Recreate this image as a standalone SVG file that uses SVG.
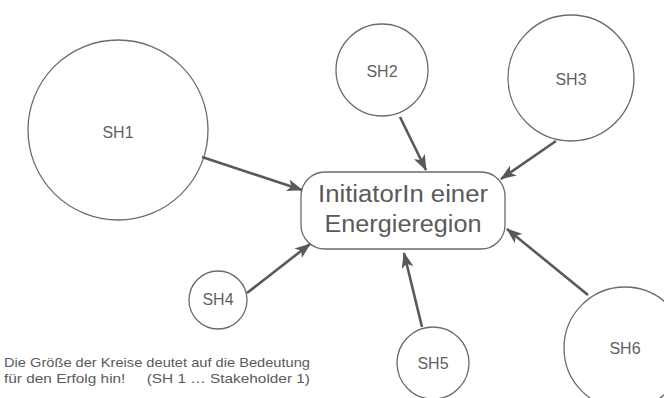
<svg xmlns="http://www.w3.org/2000/svg" width="664" height="398" viewBox="0 0 664 398">
<style>
.c{fill:#fff;stroke:#6b6b6b;stroke-width:1.3}
.b{fill:#fff;stroke:#6b6b6b;stroke-width:1.3}
.l{font-family:"Liberation Sans",Arial,sans-serif;font-size:16px;fill:#5f5f5f;text-anchor:middle}
.m{font-family:"Liberation Sans",Arial,sans-serif;font-size:23px;fill:#5a5a5a;text-anchor:middle}
.n{font-family:"Liberation Sans",Arial,sans-serif;font-size:13.5px;fill:#5a5a5a}
.a{stroke:#595959;stroke-width:2.6;fill:none;marker-end:url(#ah)}
</style>
<defs>
<marker id="ah" viewBox="0 0 16 12" refX="15" refY="6" markerWidth="16" markerHeight="12" markerUnits="userSpaceOnUse" orient="auto">
<path d="M0,0 L16,6 L0,12 L4,6 z" fill="#595959"/>
</marker>
</defs>
<g id="sh1"><circle class="c" cx="118" cy="130" r="90"/><text class="l" x="118" y="138">SH1</text></g>
<g id="sh2"><circle class="c" cx="382" cy="70" r="46"/><text class="l" x="382" y="77">SH2</text></g>
<g id="sh3"><circle class="c" cx="571" cy="78" r="63"/><text class="l" x="571" y="85">SH3</text></g>
<g id="sh4"><circle class="c" cx="218" cy="300" r="29"/><text class="l" x="218" y="305">SH4</text></g>
<g id="sh5"><circle class="c" cx="433" cy="363" r="36"/><text class="l" x="433" y="369">SH5</text></g>
<g id="sh6"><circle class="c" cx="625" cy="348" r="61"/><text class="l" x="625" y="354">SH6</text></g>
<g id="center"><rect class="b" x="301" y="172" width="204" height="77" rx="24"/>
<text class="m" x="403" y="202" textLength="170" lengthAdjust="spacingAndGlyphs">InitiatorIn einer</text>
<text class="m" x="403" y="232" textLength="157" lengthAdjust="spacingAndGlyphs">Energieregion</text></g>
<g id="connectors">
<line class="a" x1="202" y1="157" x2="302" y2="190"/>
<line class="a" x1="400" y1="117" x2="426" y2="170"/>
<line class="a" x1="556" y1="141" x2="501" y2="179"/>
<line class="a" x1="247" y1="293" x2="310" y2="244"/>
<line class="a" x1="422" y1="327" x2="404" y2="253"/>
<line class="a" x1="588" y1="295" x2="507" y2="229"/>
</g>
<g id="note">
<text class="n" x="4" y="367" textLength="306" lengthAdjust="spacingAndGlyphs">Die Größe der Kreise deutet auf die Bedeutung</text>
<text class="n" x="4" y="383" xml:space="preserve" textLength="306" lengthAdjust="spacingAndGlyphs">für den Erfolg hin!     (SH 1 … Stakeholder 1)</text>
</g>
</svg>
